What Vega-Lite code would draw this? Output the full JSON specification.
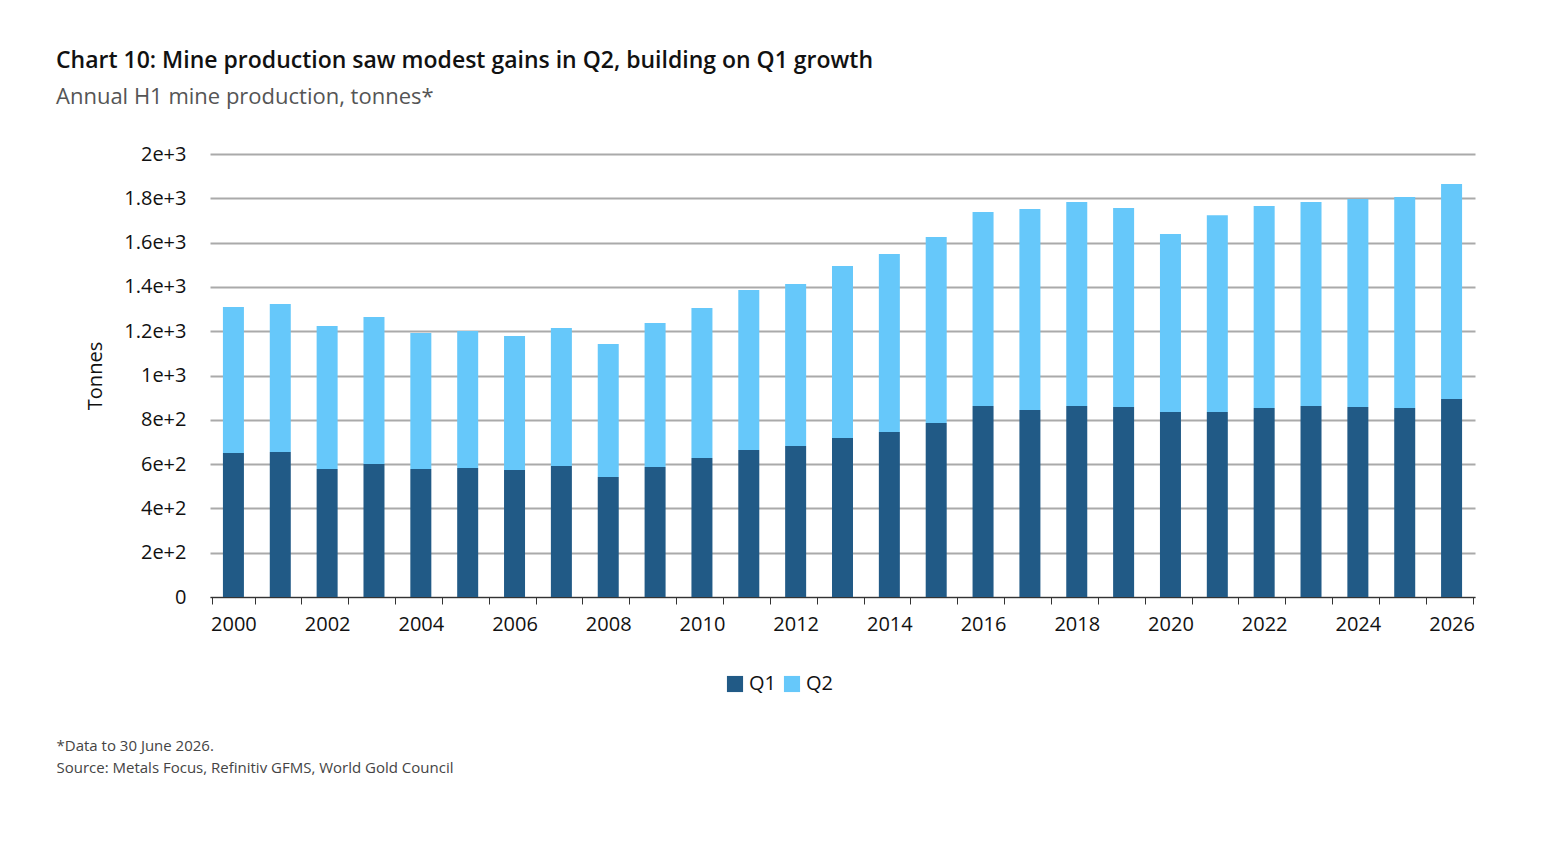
{
  "$schema": "https://vega.github.io/schema/vega-lite/v6.json",
  "width": 1265,
  "height": 443,
  "autosize": "none",
  "padding": {"left": 210, "top": 154, "right": 83, "bottom": 246},
  "background": "white",
  "config": {"font": "Open Sans", "view": {"stroke": null}},
  "title": {
    "text": "Chart 10: Mine production saw modest gains in Q2, building on Q1 growth",
    "subtitle": "Annual H1 mine production, tonnes*",
    "anchor": "start", "frame": "group", "dx": -154, "offset": 36,
    "fontSize": 23, "fontWeight": 600, "color": "#111",
    "subtitleFontSize": 22, "subtitleColor": "#555", "subtitlePadding": 14
  },
  "data": {"values": [
    {"year":"2000","q":"Q1","t":650},{"year":"2000","q":"Q2","t":659},
    {"year":"2001","q":"Q1","t":655},{"year":"2001","q":"Q2","t":668},
    {"year":"2002","q":"Q1","t":578},{"year":"2002","q":"Q2","t":645},
    {"year":"2003","q":"Q1","t":600},{"year":"2003","q":"Q2","t":664},
    {"year":"2004","q":"Q1","t":578},{"year":"2004","q":"Q2","t":614},
    {"year":"2005","q":"Q1","t":582},{"year":"2005","q":"Q2","t":619},
    {"year":"2006","q":"Q1","t":573},{"year":"2006","q":"Q2","t":605},
    {"year":"2007","q":"Q1","t":591},{"year":"2007","q":"Q2","t":623},
    {"year":"2008","q":"Q1","t":542},{"year":"2008","q":"Q2","t":600},
    {"year":"2009","q":"Q1","t":587},{"year":"2009","q":"Q2","t":650},
    {"year":"2010","q":"Q1","t":628},{"year":"2010","q":"Q2","t":677},
    {"year":"2011","q":"Q1","t":664},{"year":"2011","q":"Q2","t":722},
    {"year":"2012","q":"Q1","t":682},{"year":"2012","q":"Q2","t":731},
    {"year":"2013","q":"Q1","t":718},{"year":"2013","q":"Q2","t":776},
    {"year":"2014","q":"Q1","t":745},{"year":"2014","q":"Q2","t":803},
    {"year":"2015","q":"Q1","t":786},{"year":"2015","q":"Q2","t":839},
    {"year":"2016","q":"Q1","t":862},{"year":"2016","q":"Q2","t":876},
    {"year":"2017","q":"Q1","t":844},{"year":"2017","q":"Q2","t":908},
    {"year":"2018","q":"Q1","t":862},{"year":"2018","q":"Q2","t":921},
    {"year":"2019","q":"Q1","t":858},{"year":"2019","q":"Q2","t":898},
    {"year":"2020","q":"Q1","t":835},{"year":"2020","q":"Q2","t":804},
    {"year":"2021","q":"Q1","t":835},{"year":"2021","q":"Q2","t":889},
    {"year":"2022","q":"Q1","t":853},{"year":"2022","q":"Q2","t":912},
    {"year":"2023","q":"Q1","t":862},{"year":"2023","q":"Q2","t":921},
    {"year":"2024","q":"Q1","t":858},{"year":"2024","q":"Q2","t":939},
    {"year":"2025","q":"Q1","t":853},{"year":"2025","q":"Q2","t":953},
    {"year":"2026","q":"Q1","t":894},{"year":"2026","q":"Q2","t":971}
  ]},
  "mark": {"type": "bar", "width": 21},
  "encoding": {
    "x": {
      "field": "year", "type": "ordinal",
      "axis": {
        "labelAngle": 0, "labelFontSize": 20, "labelColor": "#111", "labelPadding": 10,
        "labelExpr": "toNumber(datum.value) % 2 == 0 ? datum.value : ''",
        "tickBand": "extent", "tickSize": 7, "tickColor": "#333", "domainColor": "#333",
        "title": ["*Data to 30 June 2026.", "Source: Metals Focus, Refinitiv GFMS, World Gold Council"],
        "titleFontSize": 15, "titleFontWeight": "normal", "titleColor": "#444",
        "titleAnchor": "start", "titleAlign": "left", "titleBaseline": "alphabetic",
        "titleX": -154, "titleY": 153, "titleLineHeight": 22
      }
    },
    "y": {
      "field": "t", "type": "quantitative", "aggregate": "sum", "stack": "zero",
      "scale": {"domain": [0, 2000]},
      "axis": {
        "title": "Tonnes", "titleFontSize": 20, "titleFontWeight": "normal", "titleColor": "#111",
        "titlePadding": 18, "tickCount": 10, "format": ",",
        "labelFontSize": 20, "labelColor": "#111", "labelPadding": 24,
        "domain": false, "ticks": false, "gridColor": "#aaa", "gridWidth": 2
      }
    },
    "color": {
      "field": "q", "type": "nominal",
      "scale": {"domain": ["Q1", "Q2"], "range": ["#215a86", "#66c8fa"]},
      "legend": {
        "title": null, "orient": "none", "direction": "horizontal",
        "legendX": 515, "legendY": 520, "labelFontSize": 20, "labelColor": "#111",
        "symbolType": "square", "symbolSize": 260, "symbolOpacity": 1, "symbolStrokeWidth": 0,
        "columnPadding": 6, "labelOffset": 4
      }
    },
    "order": {"field": "q", "sort": "ascending"}
  }
}
